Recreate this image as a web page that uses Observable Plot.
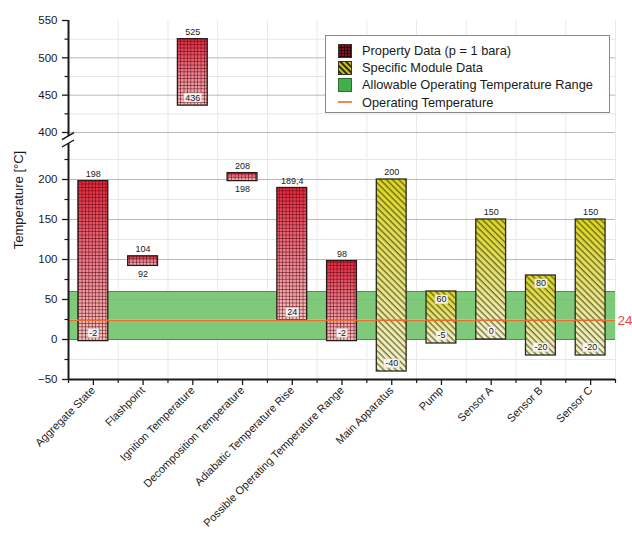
<!DOCTYPE html>
<html>
<head>
<meta charset="utf-8">
<script src="https://cdn.jsdelivr.net/npm/d3@7"></script>
<script src="https://cdn.jsdelivr.net/npm/@observablehq/plot@0.6"></script>
<style>
  body { margin: 0; background: #fff; font-family: "Liberation Sans", Arial, sans-serif; }
  #chart { position: relative; width: 632px; height: 536px; }
  .legend { position: absolute; left: 325px; top: 35px; width: 285px; height: 78px; box-sizing: border-box;
            border: 1px solid #8e8686; background: #fff; padding: 6px 0 0 12px; font-size: 12.8px; color: #1a1a1a; }
  .legend .row { display: flex; align-items: center; height: 17.2px; white-space: nowrap; }
  .legend svg { margin-right: 10px; flex: none; }
</style>
</head>
<body>
<div id="chart"></div>
<script>
// Temperature ranges per item (°C)
const categories = [
  "Aggregate State", "Flashpoint", "Ignition Temperature", "Decomposition Temperature",
  "Adiabatic Temperature Rise", "Possible Operating Temperature Range",
  "Main Apparatus", "Pump", "Sensor A", "Sensor B", "Sensor C"
];
const groups = ["property", "property", "property", "property", "property", "property",
                "module", "module", "module", "module", "module"];
const lowValues  = [-2, 92, 436, 198, 24, -2, -40, -5, 0, -20, -20];
const highValues = [198, 104, 525, 208, 189.4, 98, 200, 60, 150, 80, 150];

const allowableRange = [0, 60];
const operatingTemperature = 24;

const majorTicks = [-50, 0, 50, 100, 150, 200, 400, 450, 500, 550];
const minorTicks = [-25, 25, 75, 125, 175, 225, 425, 475, 525];

const legendLabels = [
  "Property Data (p = 1 bara)",
  "Specific Module Data",
  "Allowable Operating Temperature Range",
  "Operating Temperature"
];

const bars = categories.map((category, i) => ({
  category, group: groups[i], low: lowValues[i], high: highValues[i]
}));

// layout
const W = 632, H = 536, mL = 68, mR = 17, mT = 20, mB = 157;
const step = (W - mL - mR) / categories.length;

// broken axis: values up to 245 keep their place, values from 395 up are
// shifted down and slightly compressed into the upper segment
const lowerTop = 245, upperBottom = 395;
const breakGap = 9.1, upperScale = 0.9333;
const brk = v => v < 300 ? v : lowerTop + breakGap + (v - upperBottom) * upperScale;

const fmt = v => String(v).replace(".", ",");
const topAbove = d => d.group === "property" || d.high >= 100;
const bottomInside = d => d.high - d.low >= 30;

// gradients and fill patterns for the bars
const defs = () => {
  const g = d3.create("svg:defs");
  const rg = g.append("linearGradient").attr("id", "redGrad")
    .attr("x1", 0).attr("y1", 0).attr("x2", 0).attr("y2", 1);
  rg.append("stop").attr("offset", "0%").attr("stop-color", "#e2283a");
  rg.append("stop").attr("offset", "55%").attr("stop-color", "#ea8792");
  rg.append("stop").attr("offset", "100%").attr("stop-color", "#f2c4bc");
  const yg = g.append("linearGradient").attr("id", "yellowGrad")
    .attr("x1", 0).attr("y1", 0).attr("x2", 0).attr("y2", 1);
  yg.append("stop").attr("offset", "0%").attr("stop-color", "#dcd526");
  yg.append("stop").attr("offset", "60%").attr("stop-color", "#e9e58e");
  yg.append("stop").attr("offset", "100%").attr("stop-color", "#f4f2d4");
  const gp = g.append("pattern").attr("id", "gridPat").attr("patternUnits", "userSpaceOnUse")
    .attr("width", 3.4).attr("height", 3.4);
  gp.append("path").attr("d", "M0,0.4H3.4M0.4,0V3.4").attr("fill", "none")
    .attr("stroke", "rgba(85,0,15,0.65)").attr("stroke-width", 0.8);
  const hp = g.append("pattern").attr("id", "hatchPat").attr("patternUnits", "userSpaceOnUse")
    .attr("width", 4.4).attr("height", 4.4).attr("patternTransform", "rotate(-45)");
  hp.append("line").attr("x1", 1).attr("y1", 0).attr("x2", 1).attr("y2", 4.4)
    .attr("stroke", "rgba(55,55,0,0.8)").attr("stroke-width", 1.15);
  return g.node();
};

const property = bars.filter(d => d.group === "property");
const module = bars.filter(d => d.group === "module");
const barOpts = {x: "category", y1: "low", y2: "high"};

const plot = Plot.plot({
  width: W, height: H,
  marginLeft: mL, marginRight: mR, marginTop: mT, marginBottom: mB,
  style: {fontFamily: "'Liberation Sans', Arial, sans-serif", color: "#1a1a1a", background: "white"},
  x: {type: "band", domain: categories, paddingInner: 0.4, paddingOuter: 0.2, round: false},
  y: {transform: brk, domain: [brk(-50), brk(550)]},
  marks: [
    defs,
    // vertical grid at category boundaries
    Plot.ruleX(categories, {dx: -step / 2, stroke: "#e9e9e9"}),
    Plot.ruleX([categories[categories.length - 1]], {dx: step / 2, stroke: "#e9e9e9"}),
    // allowable operating temperature range
    Plot.rect([allowableRange], {y1: d => d[0], y2: d => d[1], fill: "#7fc97b"}),
    // horizontal grid
    Plot.ruleY(minorTicks, {stroke: "#e6e6e6"}),
    Plot.ruleY(majorTicks.filter(v => v > -50 && v < 550), {stroke: "#a89c9c", strokeOpacity: 0.75}),
    Plot.ruleY(allowableRange, {stroke: "#4f8f4c", strokeWidth: 1}),
    // property data bars
    Plot.barY(property, {...barOpts, fill: "url(#redGrad)"}),
    Plot.barY(property, {...barOpts, fill: "url(#gridPat)"}),
    Plot.barY(property, {...barOpts, fill: "none", stroke: "#2a1a1a", strokeWidth: 1.3}),
    // module data bars
    Plot.barY(module, {...barOpts, fill: "url(#yellowGrad)"}),
    Plot.barY(module, {...barOpts, fill: "url(#hatchPat)"}),
    Plot.barY(module, {...barOpts, fill: "none", stroke: "#2a2a1a", strokeWidth: 1.3}),
    // operating temperature
    Plot.ruleY([operatingTemperature], {stroke: "#ec6a2c", strokeWidth: 1.6}),
    Plot.text([operatingTemperature], {y: d => d, text: d => fmt(d), frameAnchor: "right",
      textAnchor: "start", dx: 2, fill: "#e44a36", fontSize: 13.5}),
    // value labels
    Plot.text(bars.filter(topAbove), {x: "category", y: "high", text: d => fmt(d.high), dy: -7, fontSize: 9}),
    Plot.text(bars.filter(d => !topAbove(d)), {x: "category", y: "high", text: d => fmt(d.high), dy: 8,
      fontSize: 9, className: "boxed"}),
    Plot.text(bars.filter(bottomInside), {x: "category", y: "low", text: d => fmt(d.low), dy: -8,
      fontSize: 9, className: "boxed"}),
    Plot.text(bars.filter(d => !bottomInside(d)), {x: "category", y: "low", text: d => fmt(d.low), dy: 8, fontSize: 9}),
    // axes
    Plot.axisY(majorTicks, {tickSize: 6, tickPadding: 5, fontSize: 11.5, label: null, strokeWidth: 1.3}),
    Plot.axisY(minorTicks, {tickSize: 3.5, tickFormat: () => "", label: null, strokeWidth: 1.2}),
    Plot.axisX({tickRotate: -45, tickSize: 6, tickPadding: 3, fontSize: 11, label: null, strokeWidth: 1.3}),
    Plot.axisX(categories, {tickSize: 4, dx: -step / 2, tickFormat: () => "", label: null, strokeWidth: 1.2}),
    Plot.axisX([categories[categories.length - 1]], {tickSize: 4, dx: step / 2, tickFormat: () => "", label: null, strokeWidth: 1.2}),
    Plot.ruleX([categories[0]], {dx: -step / 2, y1: -50, y2: lowerTop, strokeWidth: 2}),
    Plot.ruleX([categories[0]], {dx: -step / 2, y1: upperBottom, y2: 550, strokeWidth: 2}),
    Plot.ruleY([-50], {strokeWidth: 2}),
    Plot.text(["Temperature [°C]"], {frameAnchor: "left", textAnchor: "middle", text: d => d,
      rotate: -90, dx: -50, fontSize: 13})
  ]
});

const chart = document.getElementById("chart");
chart.appendChild(plot);

// white boxes behind labels that sit inside bars
d3.select(plot).selectAll("g.boxed text").each(function () {
  const b = this.getBBox();
  const t = this;
  d3.select(t.parentNode).insert("rect", () => t)
    .attr("transform", t.getAttribute("transform"))
    .attr("x", b.x - 1.5).attr("y", b.y + 0.5).attr("width", b.width + 3).attr("height", b.height - 1)
    .attr("fill", "rgba(255,255,255,0.85)").attr("stroke", "#c8c8c8").attr("stroke-width", 0.5);
});

// axis break marks, placed through the y scale (transform applied first)
const ys = plot.scale("y");
const yUp = ys.apply(brk(upperBottom)), yLo = ys.apply(brk(lowerTop));
const brkG = d3.select(plot).append("g");
brkG.append("polygon")
  .attr("points", `${mL - 6},${yUp + 4} ${mL + 6},${yUp - 3} ${mL + 6},${yLo - 3} ${mL - 6},${yLo + 4}`)
  .attr("fill", "white");
[yUp, yLo].forEach(y => brkG.append("line")
  .attr("x1", mL - 6).attr("y1", y + 4).attr("x2", mL + 6).attr("y2", y - 3)
  .attr("stroke", "#111").attr("stroke-width", 1.4));

// legend
const swatches = [
  `<svg width="14" height="14"><defs><pattern id="lg1" patternUnits="userSpaceOnUse" width="3" height="3"><path d="M0,0.5H3M0.5,0V3" stroke="#1a0005" stroke-width="0.9" fill="none"/></pattern></defs><rect x="0.5" y="0.5" width="13" height="13" fill="#8c1020"/><rect x="0.5" y="0.5" width="13" height="13" fill="url(#lg1)" stroke="#333"/></svg>`,
  `<svg width="14" height="14"><defs><pattern id="lg2" patternUnits="userSpaceOnUse" width="4" height="4" patternTransform="rotate(-45)"><line x1="1.2" y1="0" x2="1.2" y2="4" stroke="#111" stroke-width="1.8"/></pattern></defs><rect x="0.5" y="0.5" width="13" height="13" fill="#d6cc22"/><rect x="0.5" y="0.5" width="13" height="13" fill="url(#lg2)" stroke="#333"/></svg>`,
  `<svg width="14" height="14"><rect x="0.5" y="0.5" width="13" height="13" fill="#44ae4a" stroke="#2e6e30"/></svg>`,
  `<svg width="14" height="14"><line x1="0" y1="7" x2="14" y2="7" stroke="#ec6a2c" stroke-width="1.6"/></svg>`
];
const legend = document.createElement("div");
legend.className = "legend";
legend.innerHTML = legendLabels.map((l, i) => `<div class="row">${swatches[i]}<span>${l}</span></div>`).join("");
chart.appendChild(legend);
</script>
</body>
</html>
